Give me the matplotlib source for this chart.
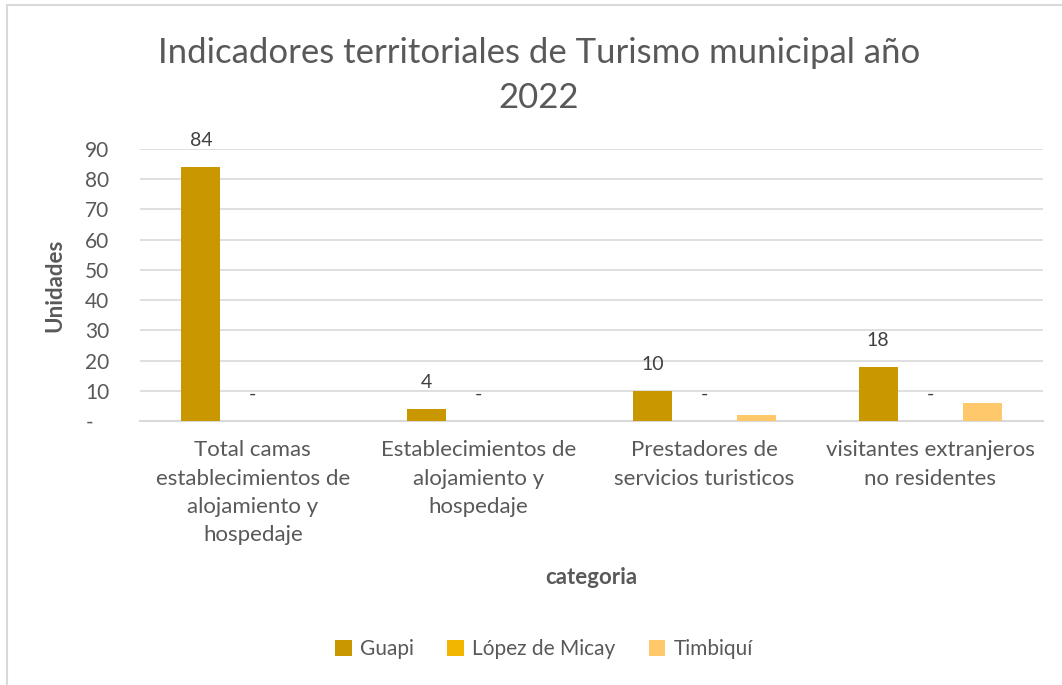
import matplotlib.pyplot as plt
from matplotlib.patches import Rectangle
import numpy as np

# datos
categorias = ["Total camas\nestablecimientos de\nalojamiento y\nhospedaje",
              "Establecimientos de\nalojamiento y\nhospedaje",
              "Prestadores de\nservicios turisticos",
              "visitantes extranjeros\nno residentes"]
guapi = [84, 4, 10, 18]
lopez = [0, 0, 0, 0]
timbiqui = [0, 0, 2, 6]
series = ["Guapi", "López de Micay", "Timbiquí"]
colores = ["#C99700", "#F2B500", "#FFC96B"]

gris = "#595959"
plt.rcParams['font.family'] = ['Lato', 'DejaVu Sans']

fig = plt.figure(figsize=(10.62, 6.85), dpi=100)
ax = fig.add_axes([140/1062, 264/685, 903/1062, 272/685])

x = np.arange(len(categorias))
ancho = 0.173
desp = 0.23
valores = [guapi, lopez, timbiqui]
for i, (nombre, vals, c) in enumerate(zip(series, valores, colores)):
    barras = ax.bar(x + (i - 1) * desp, vals, ancho, color=c, label=nombre, zorder=3)
    if i < 2:
        for b, v in zip(barras, vals):
            txt = str(v) if v else "-"
            ax.annotate(txt, (b.get_x() + b.get_width() / 2, v), xytext=(0, 19),
                        textcoords="offset points", ha="center", va="center",
                        fontsize=14, color="#404040")

ax.set_xlim(-0.5, 3.5)
ax.set_ylim(0, 90)
ax.set_yticks(range(0, 91, 10))
ax.set_yticklabels(["-   "] + [str(v) for v in range(10, 91, 10)])
ax.set_xticks(x)
ax.set_xticklabels(categorias)
for t in ax.get_xticklabels():
    t.set_linespacing(1.52)
ax.tick_params(axis="y", length=0, pad=22, labelsize=15, labelcolor=gris)
ax.tick_params(axis="x", length=0, pad=14, labelsize=16, labelcolor=gris)
ax.grid(axis="y", color="#D9D9D9", linewidth=1.2, zorder=0)
for s in ["top", "right", "left"]:
    ax.spines[s].set_visible(False)
ax.spines["bottom"].set_color("#D9D9D9")
ax.spines["bottom"].set_linewidth(1.5)

ax.set_ylabel("Unidades", fontsize=16, fontweight="bold", color=gris)
ax.yaxis.set_label_coords(-75/903, 0.5)
fig.text(591/1062, 1 - 578/685, "categoria", fontsize=16, fontweight="bold",
         color=gris, ha="center", va="center")

fig.text(539/1062, 1 - 53/685, "Indicadores territoriales de Turismo municipal año",
         fontsize=25, color=gris, ha="center", va="center")
fig.text(539/1062, 1 - 98/685, "2022",
         fontsize=25, color=gris, ha="center", va="center")

fig.legend(loc="center", bbox_to_anchor=(544/1062, 1 - 649/685), ncol=3, frameon=False,
           fontsize=15, labelcolor=gris, handlelength=0.8, handleheight=0.8,
           handletextpad=0.4, columnspacing=1.6)

fig.patches.append(Rectangle((7/1062, -0.1), 1.2, 1 - 5/685 + 0.1, transform=fig.transFigure,
                             fill=False, edgecolor="#D9D9D9", linewidth=1.5))

fig.savefig("out.png", dpi=100)
